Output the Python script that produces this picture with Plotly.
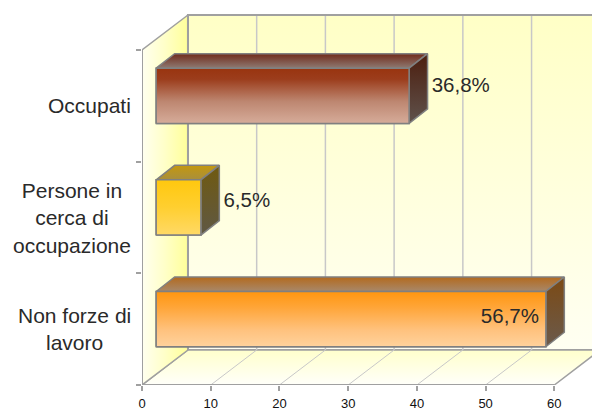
import plotly.graph_objects as go

categories = ["Occupati", "Persone in<br>cerca di<br>occupazione", "Non forze di<br>lavoro"]
values = [36.8, 6.5, 56.7]
value_labels = ["36,8%", "6,5%", "56,7%"]
x_ticks = [0, 10, 20, 30, 40, 50, 60]
band_edges = [0, 1, 2, 3]
band_centres = [2.5, 1.5, 0.5]

W, H = 592, 410
L, B = 141.5, 25
PX_X = 6.88
PX_Y = 111.67
xmax = (W - L) / PX_X
ymax = (H - B) / PX_Y

wall_dx, wall_dy = 46 / PX_X, 35 / PX_Y
bar_base = 14.2 / PX_X
bar_shift = 0.09
bar_w = 0.495
depth_dx, depth_dy = 18.5 / PX_X, 14.5 / PX_Y
label_lift = [0.08, 0.054, 0.01]

front_cols = [
    [[0, "#99340f"], [0.2, "#9c3d1c"], [0.6, "#bd8670"], [1, "#d6ac9a"]],
    [[0, "#ffc80e"], [0.5, "#ffcf30"], [1, "#ffd966"]],
    [[0, "#ff960f"], [0.3, "#ffa63a"], [0.7, "#ffc27e"], [1, "#ffd29c"]],
]
top_cols = [
    [[0, "#702a1a"], [1, "#8e7a72"]],
    [[0, "#c4980f"], [1, "#a98f3c"]],
    [[0, "#b36a1e"], [1, "#a8886a"]],
]
side_cols = [
    [[0, "#4c1e0e"], [1, "#5f524c"]],
    [[0, "#705a10"], [1, "#5f5844"]],
    [[0, "#7c4a14"], [1, "#6a5a4c"]],
]
EDGE = "#808080"
FRAME = "#a0a0a0"
GRID = "#c8c8c8"
TEXT = "#2a2a2a"


def flip(scale):
    return [[1 - p, c] for p, c in scale][::-1]


def poly(xs, ys, gtype, scale, line=EDGE, lw=1.5, axes=("x", "y")):
    return go.Scatter(
        x=xs + xs[:1], y=ys + ys[:1], mode="lines", fill="toself",
        fillgradient=dict(type=gtype, colorscale=scale),
        line=dict(color=line, width=lw), xaxis=axes[0], yaxis=axes[1],
        hoverinfo="skip", showlegend=False,
    )


def seg(xs, ys, color, width, axes=("x", "y")):
    return go.Scatter(
        x=xs, y=ys, mode="lines", line=dict(color=color, width=width),
        xaxis=axes[0], yaxis=axes[1], hoverinfo="skip", showlegend=False,
        cliponaxis=False,
    )


fig = go.Figure()
x_end = x_ticks[-1]
far_x = x_end + wall_dx
# back wall
fig.add_trace(poly(
    [wall_dx, far_x, far_x, wall_dx],
    [wall_dy, wall_dy, 3 + wall_dy, 3 + wall_dy],
    "vertical", [[0, "#fffff2"], [0.5, "#ffffdc"], [1, "#ffffc6"]], FRAME, 2,
))
# floor
fig.add_trace(poly(
    [0, x_end, far_x, wall_dx],
    [0, 0, wall_dy, wall_dy],
    "vertical", [[0, "#fffffa"], [1, "#ffffcc"]], FRAME, 1.5,
))
# left wall
fig.add_trace(poly(
    [0, wall_dx, wall_dx, 0],
    [0, wall_dy, 3 + wall_dy, 3],
    "horizontal", [[0, "#fffff0"], [0.5, "#ffffc8"], [1, "#ffff99"]], FRAME, 1.5,
))
# grid on the back wall and the floor
for t in x_ticks[1:-1]:
    fig.add_trace(seg([t + wall_dx, t + wall_dx], [wall_dy, 3 + wall_dy], GRID, 1.5))
    fig.add_trace(seg([t, t + wall_dx], [0, wall_dy], GRID, 1))
fig.add_trace(seg([wall_dx, far_x], [3 + wall_dy, 3 + wall_dy], FRAME, 2))
fig.add_trace(seg([wall_dx, wall_dx], [wall_dy, 3 + wall_dy], FRAME, 2))
fig.add_trace(seg([0, 0], [0, 3], FRAME, 2))
fig.add_trace(seg([0, x_end], [0, 0], FRAME, 2))

# bars on an overlaid copy of the same axes so that they sit above the walls
ax2 = ("x2", "y2")
ypos = [c + bar_shift for c in band_centres]
fig.add_trace(go.Bar(
    x=values, y=ypos, base=[bar_base] * 3, width=bar_w, orientation="h",
    marker=dict(color=[c[2][1] for c in front_cols], line=dict(color=EDGE, width=1.5)),
    xaxis="x2", yaxis="y2", showlegend=False, hoverinfo="x",
))
for i, v in enumerate(values):
    x0, x1 = bar_base, bar_base + v
    y0, y1 = ypos[i] - bar_w / 2, ypos[i] + bar_w / 2
    fig.add_trace(poly([x0, x1, x1 + depth_dx, x0 + depth_dx],
                       [y1, y1, y1 + depth_dy, y1 + depth_dy],
                       "vertical", flip(top_cols[i]), axes=ax2))
    fig.add_trace(poly([x1, x1 + depth_dx, x1 + depth_dx, x1],
                       [y0, y0 + depth_dy, y1 + depth_dy, y1],
                       "vertical", flip(side_cols[i]), axes=ax2))
    fig.add_trace(poly([x0, x1, x1, x0], [y0, y0, y1, y1],
                       "vertical", flip(front_cols[i]), axes=ax2))

# value labels
label_y = [p + d for p, d in zip(ypos, label_lift)]
fig.add_trace(go.Scatter(
    x=[bar_base + v + depth_dx + 0.6 if v < 50 else bar_base + v - 1.0 for v in values],
    y=label_y, mode="text", text=value_labels,
    textposition=["middle right", "middle right", "middle left"],
    textfont=dict(family="Liberation Sans", size=20.5, color=TEXT),
    xaxis="x2", yaxis="y2", hoverinfo="skip", showlegend=False,
))

axis_common = dict(showgrid=False, zeroline=False, fixedrange=True, showline=False)
fig.update_layout(
    width=W, height=H, margin=dict(l=L, r=0, t=0, b=B, pad=0),
    paper_bgcolor="white", plot_bgcolor="white", showlegend=False,
    font=dict(family="Liberation Sans", color=TEXT),
    xaxis=dict(range=[0, xmax], tickvals=x_ticks, ticktext=[str(t) for t in x_ticks],
               ticks="outside", ticklen=5, tickcolor=FRAME, tickwidth=2,
               ticklabelstandoff=1, tickfont=dict(size=13, color="#111111"), **axis_common),
    yaxis=dict(range=[0, ymax], tickvals=band_edges, ticktext=[""] * 4,
               ticks="outside", ticklen=5, tickcolor=FRAME, tickwidth=1.5, **axis_common),
    xaxis2=dict(range=[0, xmax], overlaying="x", showticklabels=False, ticks="", **axis_common),
    yaxis2=dict(range=[0, ymax], overlaying="y", showticklabels=False, ticks="", **axis_common),
    annotations=[
        dict(x=0, y=c, xref="x", yref="y", text=t, showarrow=False, xanchor="right",
             yanchor="middle", align="center", xshift=-9,
             font=dict(family="Liberation Sans", size=21, color=TEXT))
        for c, t in zip(band_centres, categories)
    ],
)
fig.write_html("out.html", config={"displayModeBar": False},
               post_script="document.body.style.margin='0';")
